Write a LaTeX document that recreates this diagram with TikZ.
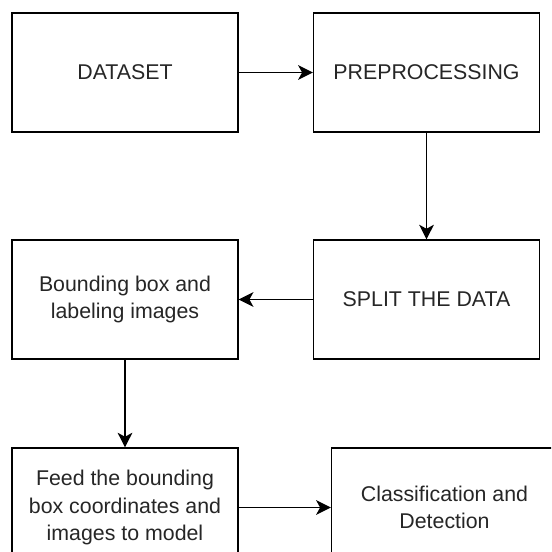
\documentclass[tikz,border=0pt]{standalone}
\usepackage{fontspec}
\setmainfont{Liberation Sans}
\usepackage{tikz}
\usetikzlibrary{arrows.meta}

\begin{document}
\begin{tikzpicture}[x=0.75pt, y=-0.75pt,
    stage/.style={draw=black, line width=1.1pt, fill=white, minimum width=169.5pt,
      minimum height=89pt, align=center, text=black!85,
      font=\fontsize{16}{20.5}\selectfont},
    arr/.style={-{Stealth[length=11pt, width=11pt, inset=3pt]}, line width=1.1pt}
  ]
  % page frame
  \useasboundingbox (0,0) rectangle (551,552);
  \clip (0,0) rectangle (551,552);
  % top row
  \node[stage] (dataset) at (125,72.5) {DATASET};
  \node[stage] (prep) at (426.5,72.5) {PREPROCESSING};
  % middle row
  \node[stage] (split) at (426.5,299.5) {SPLIT THE DATA};
  \node[stage] (bbox) at (125,299.5) {Bounding box and\\labeling images};
  % bottom row (runs off the page)
  \node[stage] (feed) at (125,507.5) {Feed the bounding\\box coordinates and\\images to model};
  \node[stage] (cls) at (444.5,507.5) {Classification and\\Detection};
  % flow
  \draw[arr] (dataset) -- (prep);
  \draw[arr] (prep) -- (split);
  \draw[arr] (split) -- (bbox);
  \draw[arr] (bbox) -- (feed);
  \draw[arr] (feed) -- (cls);
\end{tikzpicture}
\end{document}
